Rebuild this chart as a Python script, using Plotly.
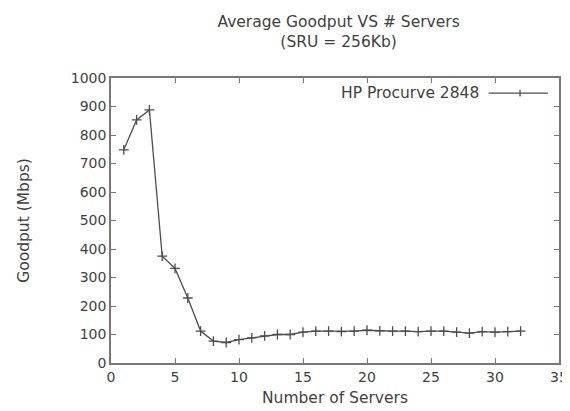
import plotly.graph_objects as go

servers = list(range(1, 33))
goodput = [748, 853, 888, 375, 332, 228, 112, 77, 72, 82, 88, 95, 100, 100, 108,
           112, 112, 110, 112, 115, 113, 112, 112, 110, 112, 112, 108, 105, 110, 108, 110, 112]
series_name = "HP Procurve 2848"
title_lines = ["Average Goodput VS # Servers", "(SRU = 256Kb)"]
x_title = "Number of Servers"
y_title = "Goodput (Mbps)"

FONT = "DejaVu Sans, Liberation Sans, sans-serif"
TXT = "#3f3f3f"
FRAME = "#7f7572"
LINE = "#4d4d4d"

fig = go.Figure()
fig.add_trace(go.Scatter(
    x=servers, y=goodput, mode="lines+markers", name=series_name,
    line=dict(color=LINE, width=1.3),
    marker=dict(symbol="cross-thin-open", size=7, line=dict(color=LINE, width=1.3)),
    showlegend=False,
))

axis_common = dict(
    showline=True, linecolor=FRAME, linewidth=1.6, mirror="allticks",
    ticks="inside", ticklen=5, tickcolor=FRAME, tickwidth=1.2,
    showgrid=False, zeroline=False, automargin=False, ticklabeloverflow="allow",
    tickfont=dict(family=FONT, size=14, color=TXT),
)

fig.update_layout(
    width=570, height=411,
    margin=dict(l=103, r=19, t=70, b=56),
    paper_bgcolor="white", plot_bgcolor="white",
    title=dict(text="<br>".join(title_lines), x=0.58, xanchor="center", y=0.953, yanchor="top",
               font=dict(family=FONT, size=15.5, color=TXT)),
    xaxis=dict(range=[0, 35], dtick=5, title=dict(text=x_title, standoff=9,
               font=dict(family=FONT, size=15.5, color=TXT)), **axis_common),
    yaxis=dict(range=[0, 1000], dtick=100, title=dict(text=y_title, standoff=37,
               font=dict(family=FONT, size=15.5, color=TXT)), **axis_common),
)

# gnuplot-style legend: text then sample on the right
fig.add_annotation(xref="paper", yref="paper", x=0.825, y=0.947, xanchor="right", yanchor="middle",
                   text=series_name, showarrow=False, font=dict(family=FONT, size=15.5, color=TXT))
fig.add_shape(type="line", xref="paper", yref="paper", x0=0.843, x1=0.975, y0=0.947, y1=0.947,
              line=dict(color=LINE, width=1.3))
fig.add_shape(type="line", xref="paper", yref="paper", x0=0.913, x1=0.913, y0=0.935, y1=0.959,
              line=dict(color=LINE, width=1.3))

fig.write_html("out.html")
